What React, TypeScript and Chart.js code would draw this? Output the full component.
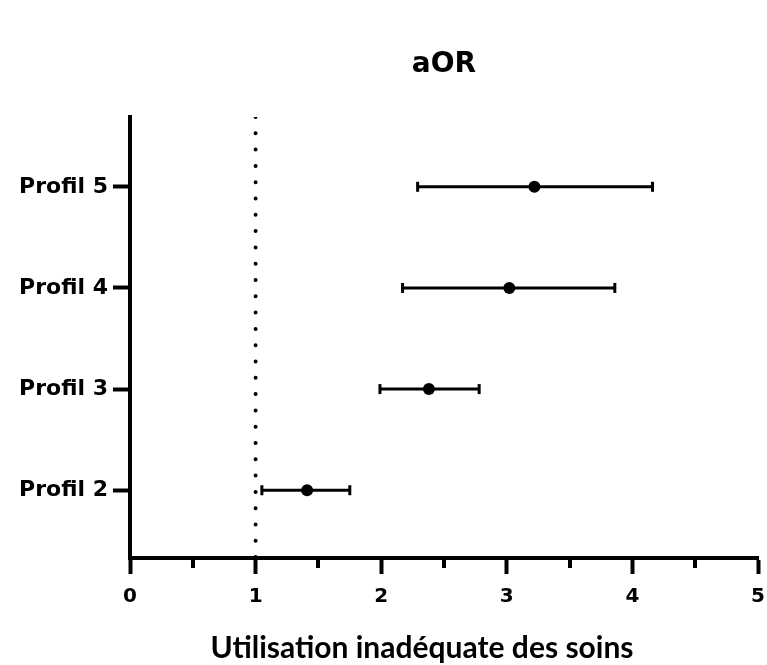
import React, { useEffect, useRef } from "react";
import { Chart, registerables } from "chart.js";

Chart.register(...registerables);

// ---- data ----
const PROFILES = ["Profil 2", "Profil 3", "Profil 4", "Profil 5"];
const AOR = [1.41, 2.38, 3.02, 3.22];
const CI_LOW = [1.05, 1.99, 2.17, 2.29];
const CI_HIGH = [1.75, 2.78, 3.86, 4.16];
const PROFILE_POS = [2, 3, 4, 5];
const REFERENCE = 1;
const X_MIN = 0;
const X_MAX = 5;
const X_MINOR = [0.5, 1.5, 2.5, 3.5, 4.5];
const Y_MIN = 1.33;
const Y_MAX = 5.69;
const TITLE = "aOR";
const X_TITLE = "Utilisation inadéquate des soins";

const minorTicks = {
  id: "minorTicks",
  afterDraw(chart: any) {
    const sx = chart.scales.x;
    const ctx = chart.ctx;
    const bottom = chart.chartArea.bottom;
    ctx.save();
    ctx.strokeStyle = "#000";
    ctx.lineWidth = 4;
    X_MINOR.forEach((v) => {
      const px = Math.round(sx.getPixelForValue(v));
      ctx.beginPath();
      ctx.moveTo(px, bottom);
      ctx.lineTo(px, bottom + 10);
      ctx.stroke();
    });
    ctx.restore();
  },
};

const bottomTitle = {
  id: "bottomTitle",
  afterDraw(chart: any) {
    const ctx = chart.ctx;
    ctx.save();
    ctx.fillStyle = "#000";
    ctx.font = "bold 30px Lato";
    ctx.textAlign = "center";
    ctx.textBaseline = "alphabetic";
    ctx.fillText(X_TITLE, 422, 658);
    ctx.restore();
  },
};

export default function App() {
  const ref = useRef<HTMLCanvasElement>(null);

  useEffect(() => {
    if (!ref.current) return;
    const ciSets = PROFILES.map((p, i) => ({
      type: "line" as const,
      label: p,
      data: [
        { x: CI_LOW[i], y: PROFILE_POS[i] },
        { x: CI_HIGH[i], y: PROFILE_POS[i] },
      ],
      borderColor: "#000",
      backgroundColor: "#000",
      borderWidth: 3,
      pointStyle: "line" as const,
      pointRotation: 90,
      pointRadius: 5,
      pointBorderWidth: 3,
      pointBorderColor: "#000",
      order: 2,
    }));

    const chart = new Chart(ref.current, {
      type: "scatter",
      data: {
        datasets: [
          {
            type: "line",
            label: "ref",
            data: [
              { x: REFERENCE, y: Y_MAX },
              { x: REFERENCE, y: Y_MIN },
            ],
            borderColor: "#000",
            borderWidth: 4,
            borderDash: [0, 16.3],
            borderCapStyle: "round",
            pointRadius: 0,
            order: 3,
          } as any,
          ...ciSets,
          {
            type: "scatter",
            label: "aOR",
            data: AOR.map((v, i) => ({ x: v, y: PROFILE_POS[i] })),
            pointRadius: 6,
            pointBackgroundColor: "#000",
            pointBorderColor: "#000",
            pointBorderWidth: 0,
            order: 1,
          } as any,
        ],
      },
      options: {
        animation: false,
        responsive: false,
        devicePixelRatio: 1,
        layout: { padding: { left: 0, right: 9, top: 0, bottom: 0 } },
        plugins: {
          legend: { display: false },
          tooltip: { enabled: false },
          title: { display: false },
        },
        scales: {
          x: {
            type: "linear",
            position: "bottom",
            min: X_MIN,
            max: X_MAX,
            afterFit: (s: any) => {
              s.height = 107;
              s.paddingLeft = 0;
              s.paddingRight = 0;
            },
            ticks: {
              stepSize: 1,
              color: "#000",
              padding: 11,
              font: { family: "DejaVu Sans", size: 20, weight: "bold" },
            },
            grid: {
              display: true,
              drawOnChartArea: false,
              drawTicks: true,
              tickLength: 16,
              tickWidth: 4,
              tickColor: "#000",
            },
            border: { display: true, width: 4, color: "#000" },
          },
          top: {
            type: "linear",
            position: "top",
            min: X_MIN,
            max: X_MAX,
            afterFit: (s: any) => {
              s.height = 117;
              s.paddingLeft = 0;
              s.paddingRight = 0;
            },
            ticks: { display: false },
            grid: { display: false, drawTicks: false },
            border: { display: false },
            title: {
              display: true,
              text: TITLE,
              color: "#000",
              font: { family: "DejaVu Sans", size: 28, weight: "bold", lineHeight: 1.2 },
              padding: { top: 48, bottom: 0 },
            },
          },
          y: {
            type: "linear",
            min: Y_MIN,
            max: Y_MAX,
            afterFit: (s: any) => {
              s.width = 130;
              s.paddingTop = 0;
              s.paddingBottom = 0;
            },
            afterBuildTicks: (s: any) => {
              s.ticks = PROFILE_POS.map((v) => ({ value: v }));
            },
            ticks: {
              color: "#000",
              padding: 5,
              font: { family: "DejaVu Sans", size: 22, weight: "bold" },
              callback: (v: any) => {
                const i = PROFILE_POS.indexOf(Number(v));
                return i >= 0 ? PROFILES[i] : "";
              },
            },
            grid: {
              display: true,
              drawOnChartArea: false,
              drawTicks: true,
              tickLength: 17,
              tickWidth: 4,
              tickColor: "#000",
            },
            border: { display: true, width: 4, color: "#000" },
          },
        },
      },
      plugins: [minorTicks, bottomTitle],
    });
    return () => chart.destroy();
  }, []);

  return (
    <div style={{ position: "absolute", left: 0, top: 0, width: 767, height: 665, background: "#fff" }}>
      <canvas ref={ref} width={767} height={665} style={{ display: "block" }} />
    </div>
  );
}
